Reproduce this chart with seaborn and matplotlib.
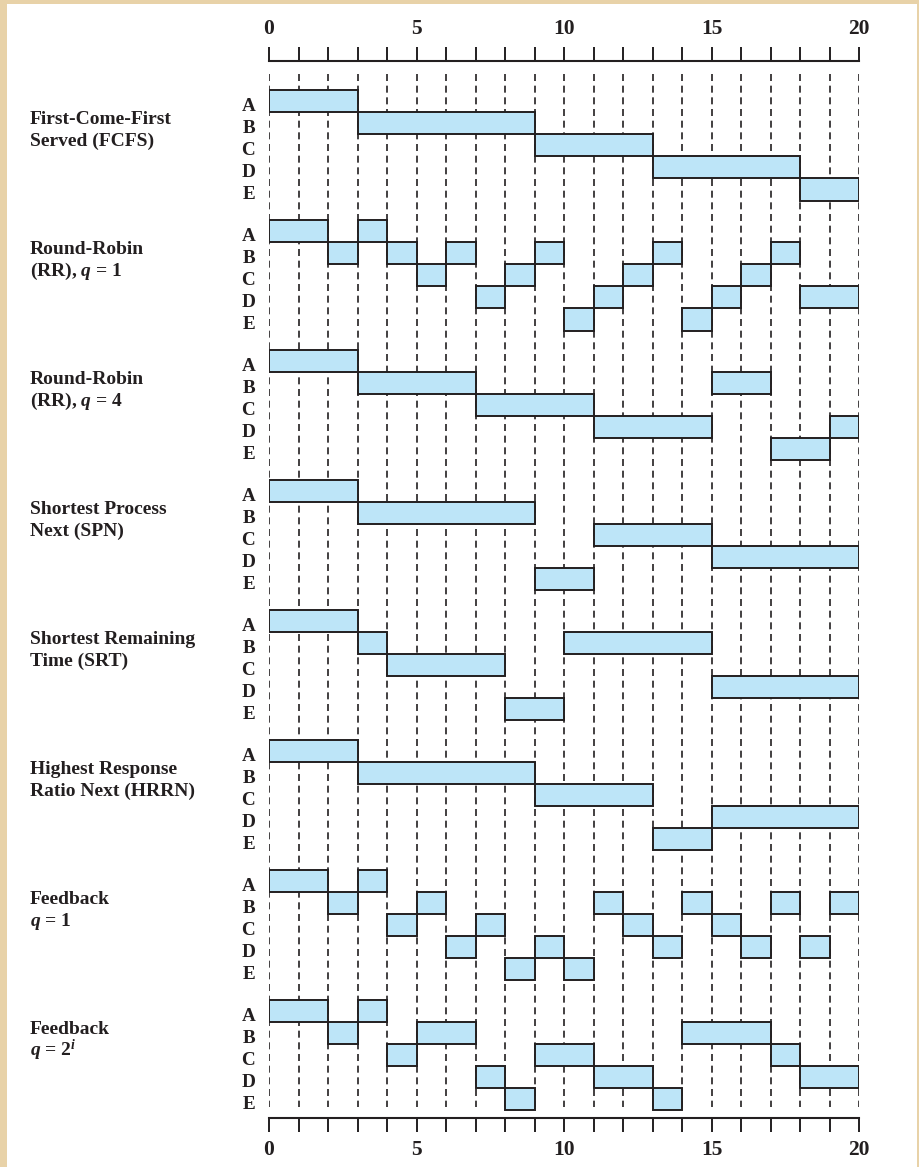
"""
Scheduling policies compared on one Gantt-style sheet (A..E over time 0..20).
"""

import matplotlib
matplotlib.use("Agg")
import matplotlib.pyplot as plt
from matplotlib.patches import Rectangle
import seaborn as sns

sns.set_theme(style="white")
plt.rcParams.update({
    "font.family": ["Liberation Serif", "DejaVu Serif"],
    "font.weight": "bold",
    "mathtext.fontset": "custom",
    "mathtext.rm": "Liberation Serif:bold",
    "mathtext.it": "Liberation Serif:bold:italic",
    "mathtext.bf": "Liberation Serif:bold",
})

PROCESSES = ["A", "B", "C", "D", "E"]

POLICY_LABELS = [
    ["First-Come-First", "Served (FCFS)"],
    ["Round-Robin", "(RR), $q$ = 1"],
    ["Round-Robin", "(RR), $q$ = 4"],
    ["Shortest Process", "Next (SPN)"],
    ["Shortest Remaining", "Time (SRT)"],
    ["Highest Response", "Ratio Next (HRRN)"],
    ["Feedback", "$q$ = 1"],
    ["Feedback", "$q$ = 2$^{i}$"],
]

# run intervals (start, end) per process, one dict per policy
FCFS = {"A": [(0, 3)], "B": [(3, 9)], "C": [(9, 13)], "D": [(13, 18)], "E": [(18, 20)]}
RR1 = {
    "A": [(0, 2), (3, 4)],
    "B": [(2, 3), (4, 5), (6, 7), (9, 10), (13, 14), (17, 18)],
    "C": [(5, 6), (8, 9), (12, 13), (16, 17)],
    "D": [(7, 8), (11, 12), (15, 16), (18, 20)],
    "E": [(10, 11), (14, 15)],
}
RR4 = {"A": [(0, 3)], "B": [(3, 7), (15, 17)], "C": [(7, 11)],
       "D": [(11, 15), (19, 20)], "E": [(17, 19)]}
SPN = {"A": [(0, 3)], "B": [(3, 9)], "C": [(11, 15)], "D": [(15, 20)], "E": [(9, 11)]}
SRT = {"A": [(0, 3)], "B": [(3, 4), (10, 15)], "C": [(4, 8)], "D": [(15, 20)], "E": [(8, 10)]}
HRRN = {"A": [(0, 3)], "B": [(3, 9)], "C": [(9, 13)], "D": [(15, 20)], "E": [(13, 15)]}
FB1 = {
    "A": [(0, 2), (3, 4)],
    "B": [(2, 3), (5, 6), (11, 12), (14, 15), (17, 18), (19, 20)],
    "C": [(4, 5), (7, 8), (12, 13), (15, 16)],
    "D": [(6, 7), (9, 10), (13, 14), (16, 17), (18, 19)],
    "E": [(8, 9), (10, 11)],
}
FB2 = {
    "A": [(0, 2), (3, 4)],
    "B": [(2, 3), (5, 7), (14, 17)],
    "C": [(4, 5), (9, 11), (17, 18)],
    "D": [(7, 8), (11, 13), (18, 20)],
    "E": [(8, 9), (13, 14)],
}
SCHEDULES = [FCFS, RR1, RR4, SPN, SRT, HRRN, FB1, FB2]

T_MAX = 20
MAJOR_TICKS = [0, 5, 10, 15, 20]

BAR_COLOR = "#BDE5F8"
INK = "#231F20"

# layout, in row units (one process row = 1)
SECTION_PITCH = 5.88
Y_TOP_SPINE = -1.31
Y_BOTTOM_SPINE = 46.5

W, H = 919, 1167
fig = plt.figure(figsize=(W / 100, H / 100), dpi=100)
fig.patch.set_facecolor("#E8D2A8")
fig.patches.append(Rectangle((7 / W, 0), 910 / W, 1 - 4 / H, transform=fig.transFigure,
                             facecolor="white", edgecolor="none", zorder=-1))

ax = fig.add_axes([269 / W, 1 - 1118 / H, 590 / W, (1118 - 61) / H])
ax.set_zorder(2)
ax.set_facecolor("none")
ax.set_xlim(0, T_MAX)
ax.set_ylim(Y_BOTTOM_SPINE, Y_TOP_SPINE)

for t in range(T_MAX + 1):
    ax.vlines(t, -0.72, 46.0, color=INK, linewidth=1.2,
              linestyle=(0, (4.2, 2.8)), zorder=1)

for s, (sched, label) in enumerate(zip(SCHEDULES, POLICY_LABELS)):
    y0 = s * SECTION_PITCH
    for p, proc in enumerate(PROCESSES):
        for start, end in sched[proc]:
            ax.barh(y0 + p + 0.5, end - start, left=start, height=1.0,
                    color=BAR_COLOR, edgecolor=INK, linewidth=1.4, zorder=3)
        ax.text(-0.47, y0 + p + 0.95, proc, ha="right", va="baseline",
                fontsize=13.8, fontweight="bold", color=INK, clip_on=False)
    for i, line in enumerate(label):
        ax.text(-8.1, y0 + 1.54 + i, line, ha="left", va="baseline",
                fontsize=14, fontweight="bold", color=INK, clip_on=False)

sns.despine(ax=ax, left=True, right=True, top=False, bottom=False)
for side in ("top", "bottom"):
    ax.spines[side].set_color(INK)
    ax.spines[side].set_linewidth(1.5)

ax.set_xticks(MAJOR_TICKS)
ax.set_xticks(range(T_MAX + 1), minor=True)
ax.set_yticks([])
ax.tick_params(axis="x", which="both", direction="out", length=10, width=1.4,
               color=INK, top=True, bottom=True, labeltop=True, labelbottom=True)
ax.tick_params(axis="x", which="major", pad=5.5, labelsize=15.5, labelcolor=INK)
for lbl in ax.get_xticklabels():
    lbl.set_fontweight("bold")

fig.savefig("out.png", dpi=100, facecolor=fig.get_facecolor())
